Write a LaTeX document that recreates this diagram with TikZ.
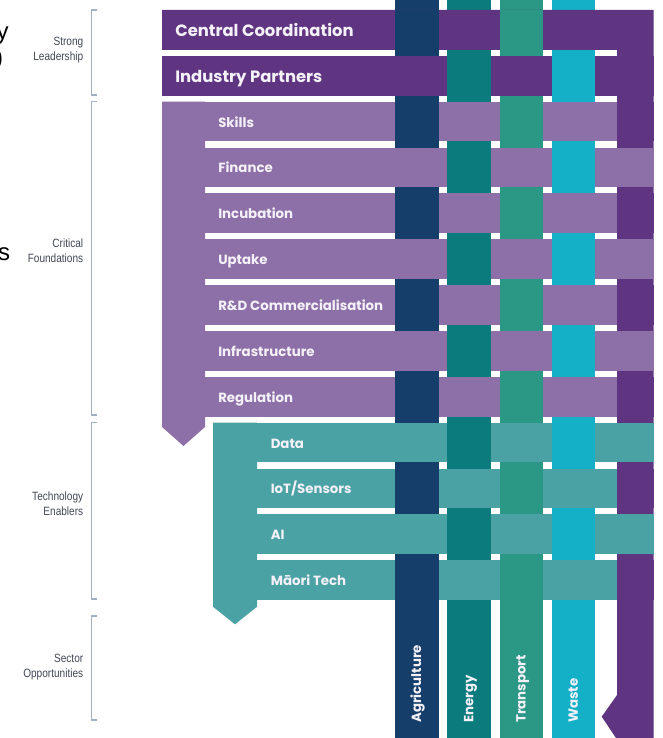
\documentclass[tikz,border=0pt]{standalone}
\usepackage{fontspec}
\setmainfont{Poppins}
\newfontfamily\condfont[FakeStretch=0.84]{Liberation Sans}
\newfontfamily\arialfont{Liberation Sans}
\definecolor{dpurple}{HTML}{5F3582}
\definecolor{lpurple}{HTML}{8E70A8}
\definecolor{lteal}{HTML}{4BA2A4}
\definecolor{cagr}{HTML}{153E6A}
\definecolor{cene}{HTML}{0B7B7D}
\definecolor{ctra}{HTML}{2A9884}
\definecolor{cwas}{HTML}{13B0C7}
\definecolor{barwhite}{HTML}{F4F1F8}
\definecolor{lblgray}{HTML}{434856}
\definecolor{brgray}{HTML}{A2B0C4}
\begin{document}
\begin{tikzpicture}[x=0.75pt,y=-0.75pt,
  barlbl/.style={anchor=base west, text=barwhite, font=\bfseries\fontsize{10}{12}\selectfont, inner sep=0pt},
  bigbarlbl/.style={barlbl, font=\bfseries\fontsize{12.3}{14}\selectfont},
  collbl/.style={rotate=90, anchor=base west, text=barwhite, font=\bfseries\fontsize{10}{12}\selectfont, inner sep=0pt},
  grouplbl/.style={anchor=east, align=right, text=lblgray, font=\condfont\fontsize{9}{11}\selectfont, inner sep=0pt},
  bracketline/.style={draw=brgray, line width=1.2pt},
  fragment/.style={anchor=base east, inner sep=0pt, text=black, font=\arialfont\fontsize{18}{18}\selectfont}]
\useasboundingbox (0,0) rectangle (662,738);
\fill[white] (0,0) rectangle (662,738);

% cropped fragments at left edge
\node[fragment] (fry) at (9,40) {y};
\node[fragment] (frp) at (3.5,66) {)};
\node[fragment] (frs) at (10.5,260) {s};

% group brackets
\draw[bracketline] (97,10) -- (91.5,10) -- (91.5,95) -- (97,95);
\draw[bracketline] (97,101.5) -- (91.5,101.5) -- (91.5,415) -- (97,415);
\draw[bracketline] (97,422.5) -- (91.5,422.5) -- (91.5,599) -- (97,599);
\draw[bracketline] (97,616) -- (91.5,616) -- (91.5,720) -- (97,720);

% group labels
\node[grouplbl] (gsl) at (83.5,50) {Strong\\Leadership};
\node[grouplbl] (gcf) at (83.5,251) {Critical\\Foundations};
\node[grouplbl] (gte) at (83.5,503.5) {Technology\\Enablers};
\node[grouplbl] (gso) at (83.5,667) {Sector\\Opportunities};

% sector columns (full strips)
\foreach \j/\c in {0/cagr,1/cene,2/ctra,3/cwas}{
  \pgfmathsetmacro\cl{395+52.3*\j}
  \fill[\c] (\cl,0) rectangle (\cl+43.5,738);
}

% central coordination + right column
\fill[dpurple] (162,10) -- (653.5,10) -- (653.5,738) -- (616,738) -- (601.7,716.7)
  -- (617,695) -- (617,49.8) -- (162,49.8) -- cycle;
% industry partners
\fill[dpurple] (162,55.85) rectangle (653.5,95.65);

% critical foundations comb
\fill[lpurple] (162,101.7) -- (205,101.7) -- (205,427) -- (183.5,446) -- (162,427) -- cycle;
\foreach \i in {2,...,8}{
  \pgfmathsetmacro\rt{10+45.85*\i}
  \fill[lpurple] (205,\rt) rectangle (653.5,\rt+39.8);
}
% technology enablers comb
\fill[lteal] (213,422.65) -- (257,422.65) -- (257,606.7) -- (235,624.3) -- (213,606.7) -- cycle;
\foreach \i in {9,...,12}{
  \pgfmathsetmacro\rt{10+45.85*\i}
  \fill[lteal] (257,\rt) rectangle (653.5,\rt+39.8);
}

% weave: columns over rows where (i+j) even
\foreach \i in {0,...,12}{
  \pgfmathsetmacro\rt{10+45.85*\i}
  \foreach \j/\c in {0/cagr,1/cene,2/ctra,3/cwas}{
    \pgfmathtruncatemacro\parity{mod(\i+\j,2)}
    \ifnum\parity=0
      \pgfmathsetmacro\cl{395+52.3*\j}
      \fill[\c] (\cl,\rt) rectangle (\cl+43.5,\rt+39.8);
    \fi
  }
}
\foreach \i in {2,4,...,12}{
  \pgfmathsetmacro\rt{10+45.85*\i}
  \fill[dpurple] (617,\rt) rectangle (653.5,\rt+39.8);
}

% row labels
\node[bigbarlbl] (cc) at (175,36.3) {Central Coordination};
\node[bigbarlbl] (ip) at (175,82.1) {Industry Partners};
\node[barlbl] (sk) at (218,127.1) {Skills};
\node[barlbl] (fi) at (218,172.9) {Finance};
\node[barlbl] (in) at (218,218.8) {Incubation};
\node[barlbl] (up) at (218,264.6) {Uptake};
\node[barlbl] (rd) at (218,310.5) {R\&D Commercialisation};
\node[barlbl] (is) at (218,356.3) {Infrastructure};
\node[barlbl] (re) at (218,402.2) {Regulation};
\node[barlbl] (da) at (270.5,448) {Data};
\node[barlbl] (io) at (270.5,493.9) {IoT/Sensors};
\node[barlbl] (ai) at (270.5,539.7) {AI};
\node[barlbl] (mt) at (270.5,585.6) {Māori Tech};

% column labels
\node[collbl] (agr) at (421,723) {Agriculture};
\node[collbl] (ene) at (473.3,723) {Energy};
\node[collbl] (tra) at (525.6,723) {Transport};
\node[collbl] (was) at (577.9,723) {Waste};
\end{tikzpicture}
\end{document}
